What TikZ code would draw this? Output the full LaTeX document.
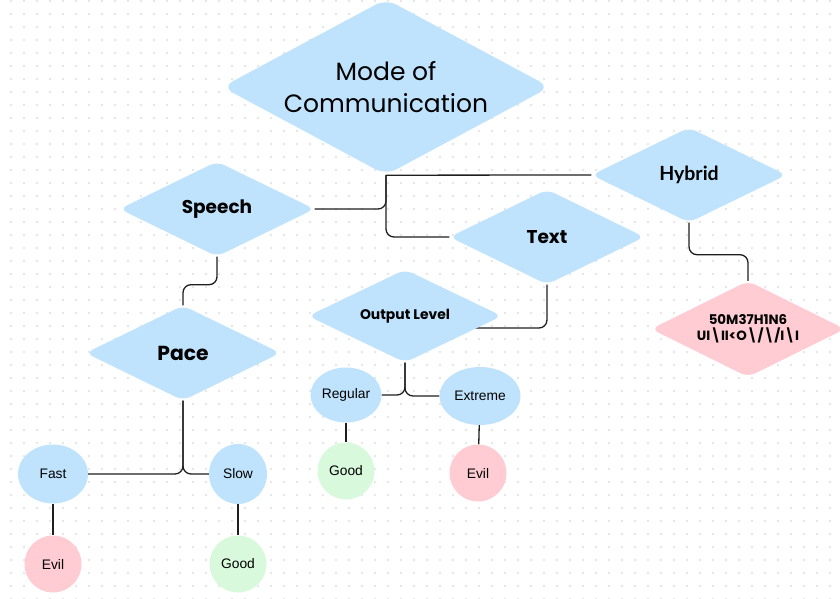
\documentclass[tikz,border=0pt]{standalone}
\usepackage{fontspec}
\setmainfont{Liberation Sans}
\newfontfamily\popfont{Poppins}
\newfontfamily\latofont{Lato}
\usetikzlibrary{shapes.geometric,backgrounds}

\definecolor{nodeblue}{HTML}{BFE3FD}
\definecolor{nodepink}{HTML}{FFCCD3}
\definecolor{nodegreen}{HTML}{D9F9DC}
\definecolor{griddot}{HTML}{E4E4E4}
\definecolor{linecol}{HTML}{1E1E1E}

\begin{document}
\begin{tikzpicture}[
        x=1pt, y=-1pt,
        decision/.style={diamond, fill=nodeblue, rounded corners=8pt, inner sep=0pt,
                         shape aspect=2.1, minimum width=195, minimum height=95,
                         font=\popfont\bfseries\fontsize{18.5}{22}\selectfont},
        option/.style  ={ellipse, fill=nodeblue, inner sep=0pt,
                         font=\fontsize{13.8}{16}\selectfont},
        result/.style  ={circle, inner sep=0pt, minimum size=57,
                         font=\fontsize{13.8}{16}\selectfont},
        conn/.style    ={draw=linecol, line width=1.3pt, rounded corners=8pt},
    ]
    \useasboundingbox (0,0) rectangle (840,599);

    %% Top level
    \node[decision, minimum width=328, minimum height=176, rounded corners=12pt,
          align=center, font=\popfont\fontsize{25}{32}\selectfont]
          (mode) at (386, 87) {Mode of\\Communication};

    %% Second level
    \node[decision] (speech) at (217, 209) {Speech};
    \node[decision] (text)   at (547, 237) {Text};
    \node[decision, font=\latofont\bfseries\fontsize{19.5}{22}\selectfont]
          (hybrid) at (689, 175) {Hybrid};

    %% Third level
    \node[decision, font=\popfont\bfseries\fontsize{20.3}{24}\selectfont]
          (pace) at (183, 353) {Pace};
    \node[decision, minimum width=194, minimum height=93,
          font=\popfont\bfseries\fontsize{13.9}{16}\selectfont]
          (output) at (405, 316) {Output Level};
    \node[decision, fill=nodepink, minimum width=194, minimum height=96, align=center,
          font=\popfont\bfseries\fontsize{13.4}{16}\selectfont]
          (hack) at (748, 329) {50M37H1N6\\UI\textbackslash{}II<O\textbackslash{}/\textbackslash{}/I\textbackslash{}I};

    %% Options
    \node[option, minimum width=70, minimum height=59] (fast)    at (53, 474)  {Fast};
    \node[option, minimum width=58, minimum height=60] (slow)    at (238, 474) {Slow};
    \node[option, minimum width=71, minimum height=55] (regular) at (346, 395) {Regular};
    \node[option, minimum width=81, minimum height=58] (extreme) at (480, 396) {Extreme};

    %% Results
    \node[result, fill=nodepink]  (fastres)    at (53, 564)  {Evil};
    \node[result, fill=nodegreen] (slowres)    at (238, 564) {Good};
    \node[result, fill=nodegreen] (regularres) at (346, 471) {Good};
    \node[result, fill=nodepink]  (extremeres) at (478, 473) {Evil};

    \begin{pgfonlayer}{background}
        %% Dotted canvas
        \foreach \gx in {11,24,...,843}
            \foreach \gy in {1,14,...,599}
                \fill[griddot] (\gx,\gy) circle (1.4);

        %% Connectors
        \draw[conn] (speech.east) -| (mode.south);
        \draw[conn] (mode.south) -- (hybrid.west);
        \draw[conn] (mode.south) |- (text.west);
        \draw[conn] (speech.south) -- ++(0,28) -| (pace.north);
        \draw[conn] (text.south) |- ([yshift=-12pt]output.center);
        \draw[conn] (hybrid.south) -- ++(0,32) -| (hack.north);

        \draw[conn] (pace.south) |- (fast.east);
        \draw[conn] (pace.south) |- (slow.west);
        \draw[conn] (output.south) |- (regular.east);
        \draw[conn] (output.south) |- (extreme.west);

        \draw[conn] (fast) -- (fastres);
        \draw[conn] (slow) -- (slowres);
        \draw[conn] (regular) -- (regularres);
        \draw[conn] (extreme) -- (extremeres);
    \end{pgfonlayer}
\end{tikzpicture}
\end{document}
